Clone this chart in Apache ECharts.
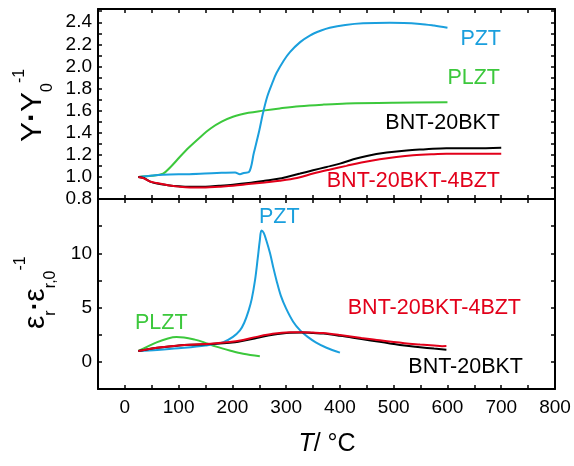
<!DOCTYPE html>
<html>
<head>
<meta charset="utf-8">
<script src="https://cdn.jsdelivr.net/npm/echarts@6/dist/echarts.min.js"></script>
<style>html,body{margin:0;padding:0;background:#fff}#c{width:574px;height:466px}</style>
</head>
<body>
<div id="c"></div>
<script>
// ---------- data ----------
// x tick labels
var xTickLabels = [0, 100, 200, 300, 400, 500, 600, 700, 800];
// top panel: Y / Y0
var topPZT_T = [25, 71, 120, 171, 205, 214, 221, 231, 240, 250, 257, 265, 275, 282, 295, 307, 326, 344, 365, 381, 410, 443, 493, 549, 575, 600];
var topPZT_V = [1.0, 1.02, 1.025, 1.035, 1.04, 1.025, 1.035, 1.045, 1.22, 1.42, 1.58, 1.73, 1.86, 1.94, 2.05, 2.13, 2.22, 2.28, 2.325, 2.35, 2.375, 2.39, 2.395, 2.385, 2.37, 2.35];
var topPLZT_T = [25, 50, 71, 85, 102, 120, 140, 160, 180, 201, 230, 257, 288, 325, 370, 412, 500, 600];
var topPLZT_V = [1.0, 1.01, 1.03, 1.09, 1.18, 1.27, 1.36, 1.44, 1.50, 1.545, 1.58, 1.60, 1.62, 1.64, 1.655, 1.665, 1.672, 1.675];
var topBNT_T = [25, 35, 46, 60, 80, 100, 121, 150, 175, 201, 230, 260, 288, 301, 326, 350, 375, 400, 425, 450, 487, 524, 560, 598, 650, 700];
var topBNT_V = [1.0, 0.99, 0.96, 0.94, 0.925, 0.915, 0.91, 0.912, 0.92, 0.93, 0.945, 0.965, 0.985, 1.0, 1.03, 1.06, 1.09, 1.12, 1.16, 1.19, 1.22, 1.24, 1.25, 1.26, 1.26, 1.265];
var topBZT_T = [25, 34, 46, 59, 80, 100, 121, 150, 175, 201, 230, 260, 288, 320, 350, 380, 412, 440, 474, 505, 536, 570, 598, 650, 700];
var topBZT_V = [1.0, 0.99, 0.96, 0.945, 0.925, 0.912, 0.905, 0.905, 0.912, 0.92, 0.935, 0.95, 0.965, 0.99, 1.03, 1.065, 1.10, 1.13, 1.16, 1.18, 1.195, 1.205, 1.21, 1.21, 1.21];
// bottom panel: eps_r / eps_r,0
var botPZT_T = [25, 60, 100, 150, 183, 201, 214, 222, 230, 236, 242, 247, 251, 254, 258, 263, 270, 276, 282, 290, 300, 313, 326, 340, 355, 375, 400];
var botPZT_V = [1.0, 1.1, 1.25, 1.5, 1.82, 2.3, 2.9, 3.6, 4.7, 5.8, 7.5, 9.5, 11.2, 12.1, 11.9, 11.2, 10.0, 8.7, 7.5, 6.1, 4.9, 3.7, 2.9, 2.3, 1.8, 1.3, 0.85];
var botPLZT_T = [25, 40, 59, 80, 96, 110, 130, 146, 170, 195, 220, 251];
var botPLZT_V = [1.0, 1.35, 1.8, 2.15, 2.28, 2.25, 2.05, 1.82, 1.4, 1.05, 0.75, 0.52];
var botBNT_T = [25, 60, 100, 121, 160, 195, 220, 245, 275, 307, 330, 350, 369, 400, 440, 474, 493, 520, 549, 575, 598];
var botBNT_V = [1.0, 1.3, 1.5, 1.57, 1.65, 1.76, 1.95, 2.2, 2.5, 2.68, 2.7, 2.65, 2.6, 2.4, 2.1, 1.85, 1.7, 1.5, 1.35, 1.22, 1.12];
var botBZT_T = [25, 60, 100, 121, 160, 195, 220, 245, 275, 307, 330, 350, 369, 400, 440, 474, 520, 549, 575, 590, 598];
var botBZT_V = [1.0, 1.3, 1.5, 1.58, 1.67, 1.82, 2.02, 2.3, 2.58, 2.72, 2.73, 2.7, 2.65, 2.47, 2.2, 1.98, 1.72, 1.6, 1.5, 1.44, 1.45];

// ---------- helpers ----------
function zip(a, b) { return a.map(function (t, i) { return [t, b[i]]; }); }
var FONT = '"Liberation Sans", Arial, sans-serif';
var cv = document.createElement('canvas').getContext('2d');
function tw(text, size, extra) { cv.font = (extra ? extra + ' ' : '') + size + 'px ' + FONT; return cv.measureText(text).width; }

var C_BLUE = '#1a9fdd', C_GREEN = '#3cc83c', C_RED = '#e2001a', C_BLACK = '#000000';
var grid0 = { left: 98, right: 19, top: 9, height: 190 };
var grid1 = { left: 98, right: 19, top: 199, height: 190 };

function xAx(gi, pos, labels) {
  return {
    type: 'value', gridIndex: gi, position: pos, min: -50, max: 800, interval: 50,
    axisLine: { show: true, onZero: false, lineStyle: { color: '#000', width: 2 } },
    axisTick: { show: true, inside: true, length: 4, lineStyle: { color: '#000', width: 1.5 } },
    axisLabel: labels ? {
      show: true, margin: 9, color: '#000', fontSize: 19, fontFamily: FONT,
      formatter: function (v) { return (xTickLabels.indexOf(Math.round(v)) >= 0) ? String(Math.round(v)) : ''; }
    } : { show: false },
    splitLine: { show: false }
  };
}
function yAx(gi, pos, min, max, interval, fmt) {
  return {
    type: 'value', gridIndex: gi, position: pos, min: min, max: max, interval: interval,
    axisLine: { show: true, onZero: false, lineStyle: { color: '#000', width: 2 } },
    axisTick: { show: true, inside: true, length: 4, lineStyle: { color: '#000', width: 1.5 } },
    axisLabel: fmt ? { show: true, margin: 6, color: '#000', fontSize: 19, fontFamily: FONT, showMaxLabel: false, formatter: fmt } : { show: false },
    splitLine: { show: false }
  };
}
function line(name, xi, yi, T, V, color) {
  return {
    name: name, type: 'line', xAxisIndex: xi, yAxisIndex: yi, data: zip(T, V),
    showSymbol: false, smooth: 0.35, lineStyle: { color: color, width: 2 }, itemStyle: { color: color },
    silent: true, animation: false
  };
}

// titles (rotated groups)
function rotTitle(gx, gy, parts) {
  var children = [], lx = 0;
  parts.forEach(function (p) {
    children.push({ type: 'text', x: lx, y: p.dy, style: { text: p.t, fontSize: p.s, fontWeight: p.w || 'normal', fontFamily: FONT, fill: '#000', align: 'left', verticalAlign: 'middle', textAlign: 'left', textVerticalAlign: 'middle' } });
    lx += tw(p.t, p.s, p.w);
  });
  return { type: 'group', x: gx, y: gy, rotation: Math.PI / 2, children: children };
}
var topTitle = rotTitle(32.6, 142, [
  { t: 'Y', s: 30, dy: 0 }, { t: '·', s: 30, dy: 0, w: 'bold' }, { t: 'Y', s: 30, dy: 0 }, { t: '0', s: 16, dy: 15.4 }, { t: '-1', s: 16, dy: -12.6 }
]);
var botTitle = rotTitle(36, 329, [
  { t: 'ε', s: 30, dy: 0 }, { t: 'r', s: 16, dy: 14.2 }, { t: '·', s: 26, dy: 0, w: 'bold' }, { t: 'ε', s: 30, dy: 0 }, { t: 'r,0', s: 16, dy: 14.2 }, { t: '-1', s: 16, dy: -15.3 }
]);
function ann(text, x, y, color, align) {
  return { type: 'text', x: x, y: y, style: { text: text, fontSize: 21.5, fontFamily: FONT, fill: color, align: align, verticalAlign: 'middle', textAlign: align, textVerticalAlign: 'middle' } };
}

var chart = echarts.init(document.getElementById('c'), null, { renderer: 'canvas' });
chart.setOption({
  animation: false,
  backgroundColor: '#fff',
  grid: [grid0, grid1],
  xAxis: [xAx(0, 'bottom', false), xAx(0, 'top', false), xAx(1, 'bottom', true), xAx(1, 'top', false)],
  yAxis: [
    yAx(0, 'left', 0.8, 2.52, 0.1, function (v) { return Math.round(v * 10) % 2 === 0 ? v.toFixed(1) : ''; }),
    yAx(0, 'right', 0.8, 2.52, 0.1, null),
    yAx(1, 'left', -2.5, 15, 2.5, function (v) { return (Math.round(v * 10) % 50 === 0 && v >= 0 && v < 15) ? String(Math.round(v)) : ''; }),
    yAx(1, 'right', -2.5, 15, 2.5, null)
  ],
  series: [
    line('PLZT', 0, 0, topPLZT_T, topPLZT_V, C_GREEN),
    line('PZT', 0, 0, topPZT_T, topPZT_V, C_BLUE),
    line('BNT-20BKT', 0, 0, topBNT_T, topBNT_V, C_BLACK),
    line('BNT-20BKT-4BZT', 0, 0, topBZT_T, topBZT_V, C_RED),
    line('PLZT', 2, 2, botPLZT_T, botPLZT_V, C_GREEN),
    line('PZT', 2, 2, botPZT_T, botPZT_V, C_BLUE),
    line('BNT-20BKT', 2, 2, botBNT_T, botBNT_V, C_BLACK),
    line('BNT-20BKT-4BZT', 2, 2, botBZT_T, botBZT_V, C_RED)
  ],
  graphic: [
    topTitle, botTitle,
    { type: 'text', x: 327, y: 444, style: { text: '{i|T}{n|/ °C}', rich: { i: { fontSize: 25, fontStyle: 'italic', fontFamily: FONT, fill: '#000' }, n: { fontSize: 25, fontFamily: FONT, fill: '#000' } }, align: 'center', verticalAlign: 'middle', textAlign: 'center', textVerticalAlign: 'middle' } },
    ann('PZT', 501, 39, C_BLUE, 'right'),
    ann('PLZT', 500, 78, C_GREEN, 'right'),
    ann('BNT-20BKT', 500, 123.5, C_BLACK, 'right'),
    ann('BNT-20BKT-4BZT', 500, 181.5, C_RED, 'right'),
    ann('PZT', 259, 217.5, C_BLUE, 'left'),
    ann('PLZT', 135, 323, C_GREEN, 'left'),
    ann('BNT-20BKT-4BZT', 521, 308, C_RED, 'right'),
    ann('BNT-20BKT', 523, 367, C_BLACK, 'right')
  ]
});
</script>
</body>
</html>
